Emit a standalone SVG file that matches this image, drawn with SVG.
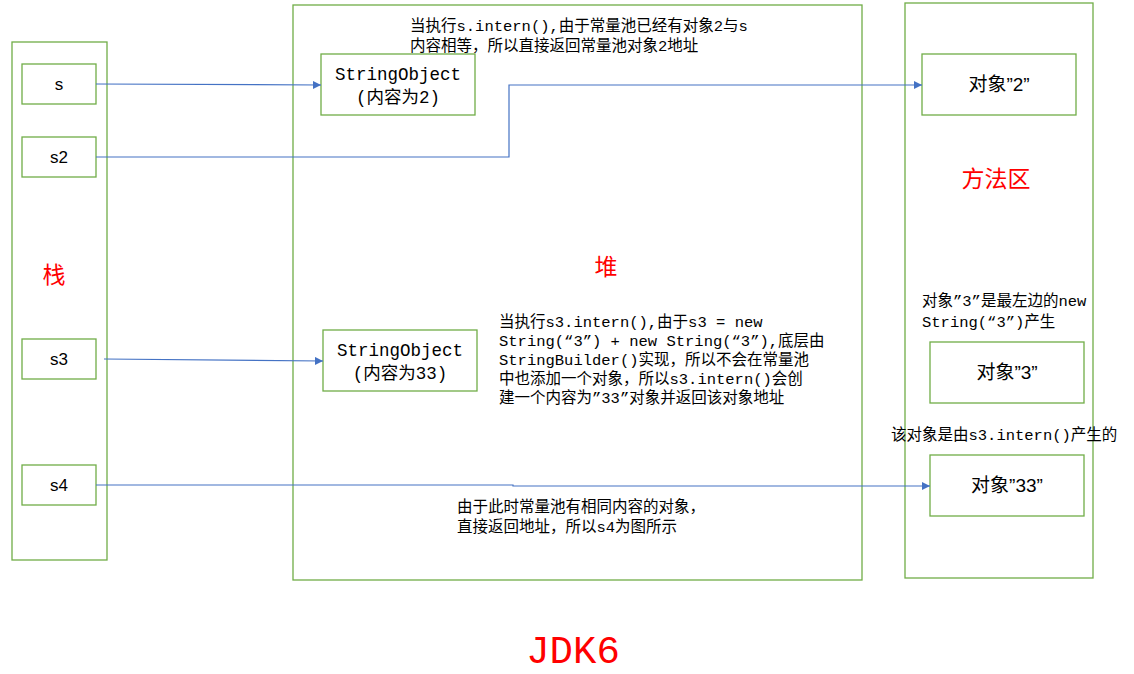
<svg xmlns="http://www.w3.org/2000/svg" width="1134" height="674" viewBox="0 0 1134 674">
<defs>
<style>
.box{fill:#fff;stroke:#70AD47;stroke-width:1.3}
.area{fill:none;stroke:#70AD47;stroke-width:1.3}
.con{fill:none;stroke:#4472C4;stroke-width:1.2}
.t{font-family:"Liberation Mono","Noto Sans CJK SC",monospace;font-size:15.5px;fill:#000}
.so{font-family:"Liberation Mono","Noto Sans CJK SC",monospace;font-size:17.5px;fill:#000;text-anchor:middle}
.v{font-family:"Liberation Sans","Noto Sans CJK SC",sans-serif;font-size:17px;fill:#000;text-anchor:middle}
.ob{font-family:"Liberation Sans","Noto Sans CJK SC",sans-serif;font-size:19px;fill:#000;text-anchor:middle}
.red{font-family:"Noto Sans CJK SC",sans-serif;font-size:23px;fill:#FF0000;text-anchor:middle}
</style>
<marker id="ah" viewBox="0 0 10 10" refX="10" refY="5" markerWidth="8" markerHeight="8" markerUnits="userSpaceOnUse" orient="auto">
<path d="M0,0 L10,5 L0,10 z" fill="#4472C4"/>
</marker>
</defs>
<rect width="1134" height="674" fill="#fff"/>
<g id="stack">
<rect class="area" x="12" y="42" width="95" height="518"/>
<text class="red" x="54" y="283">栈</text>
</g>
<g id="heap">
<rect class="area" x="293" y="5" width="569" height="575"/>
<text class="red" x="606" y="275">堆</text>
</g>
<g id="method-area">
<rect class="area" x="905" y="3" width="188" height="575"/>
<text class="red" x="996" y="187">方法区</text>
</g>
<g id="s"><rect class="box" x="22" y="64" width="74" height="40"/><text class="v" x="59" y="90">s</text></g>
<g id="s2"><rect class="box" x="22" y="137" width="74" height="40"/><text class="v" x="59" y="163">s2</text></g>
<g id="s3"><rect class="box" x="22" y="339" width="74" height="40"/><text class="v" x="59" y="365">s3</text></g>
<g id="s4"><rect class="box" x="22" y="465" width="74" height="40"/><text class="v" x="59" y="491">s4</text></g>
<g id="so2"><rect class="box" x="321" y="54" width="154" height="61"/><text class="so" x="398" y="80">StringObject</text><text class="so" x="398" y="103">(内容为2)</text></g>
<g id="so33"><rect class="box" x="323" y="330" width="154" height="61"/><text class="so" x="400" y="356">StringObject</text><text class="so" x="400" y="379">(内容为33)</text></g>
<g id="obj2"><rect class="box" x="922" y="54" width="154" height="61"/><text class="ob" x="999" y="91">对象”2”</text></g>
<g id="obj3"><rect class="box" x="930" y="342" width="154" height="61"/><text class="ob" x="1007" y="379">对象”3”</text></g>
<g id="obj33"><rect class="box" x="930" y="455" width="154" height="61"/><text class="ob" x="1007" y="492">对象”33”</text></g>
<g id="connectors">
<path class="con" d="M96,84 L321,85" marker-end="url(#ah)"/>
<path class="con" d="M96,157 L509,157 L509,85 L922,85" marker-end="url(#ah)"/>
<path class="con" d="M104,359 L323,361" marker-end="url(#ah)"/>
<path class="con" d="M96,485 L513,485 L513,486 L930,486" marker-end="url(#ah)"/>
</g>
<g id="notes">
<text class="t" x="410" y="31">当执行s.intern(),由于常量池已经有对象2与s</text>
<text class="t" x="410" y="51">内容相等，所以直接返回常量池对象2地址</text>
<text class="t" x="499" y="327">当执行s3.intern(),由于s3 = new</text>
<text class="t" x="499" y="346">String(“3”) + new String(“3”),底层由</text>
<text class="t" x="499" y="365">StringBuilder()实现，所以不会在常量池</text>
<text class="t" x="499" y="384">中也添加一个对象，所以s3.intern()会创</text>
<text class="t" x="499" y="403">建一个内容为”33”对象并返回该对象地址</text>
<text class="t" x="922" y="306">对象”3”是最左边的new</text>
<text class="t" x="922" y="327">String(“3”)产生</text>
<text class="t" x="891" y="440">该对象是由s3.intern()产生的</text>
<text class="t" x="457" y="512">由于此时常量池有相同内容的对象，</text>
<text class="t" x="457" y="532">直接返回地址，所以s4为图所示</text>
<text x="573" y="663" style="font-family:'Liberation Mono',monospace;font-size:39px;fill:#FF0000;text-anchor:middle">JDK6</text>
</g>
</svg>
